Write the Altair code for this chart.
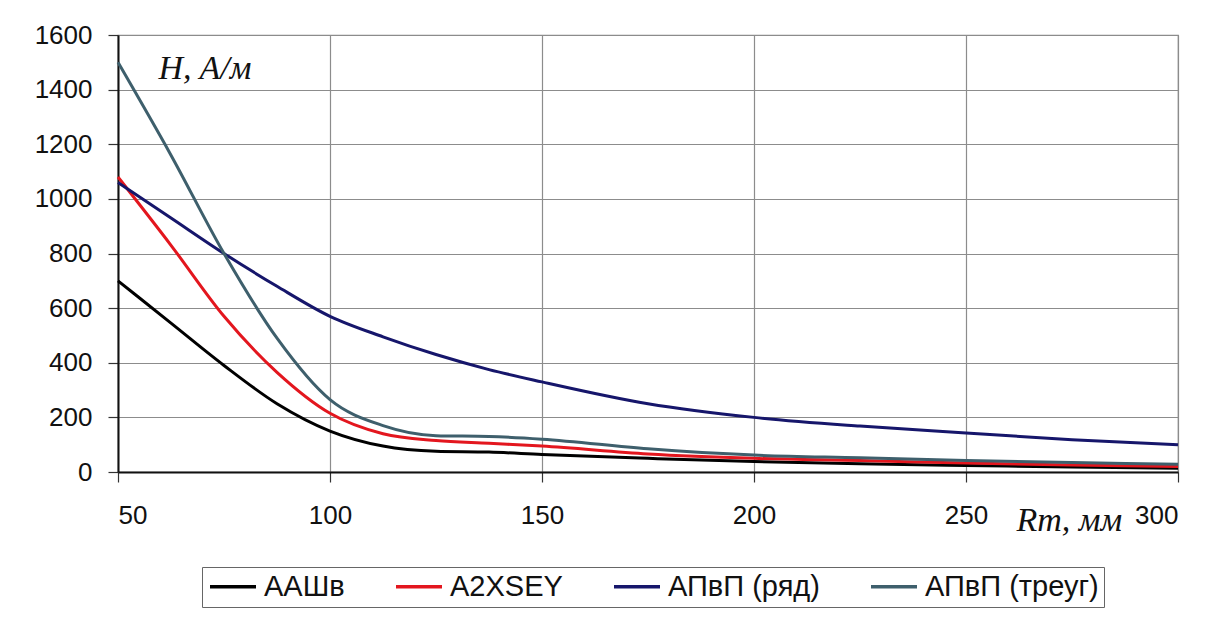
import altair as alt
import pandas as pd

rm = [50, 62.5, 75, 87.5, 100, 112.5, 125, 137.5, 150, 175, 200, 225, 250, 275, 300]
aashv = [700, 545, 390, 250, 150, 95, 76, 73, 64, 50, 38, 30, 24, 18, 14]
a2xsey = [1080, 830, 570, 365, 215, 140, 115, 105, 95, 66, 50, 42, 33, 26, 20]
apvp_row = [1060, 930, 800, 680, 570, 495, 430, 375, 330, 250, 200, 168, 143, 118, 100]
apvp_tri = [1500, 1160, 800, 490, 265, 170, 133, 130, 120, 85, 62, 52, 42, 35, 28]

series_names = ["ААШв", "A2XSEY", "АПвП (ряд)", "АПвП (треуг)"]
series_colors = ["#000000", "#e3161e", "#16166b", "#3e5f6c"]

rows = []
for name, vals in zip(series_names, [aashv, a2xsey, apvp_row, apvp_tri]):
    for x, v in zip(rm, vals):
        rows.append({"Rm": x, "H": v, "series": name})
df = pd.DataFrame(rows)

chart = alt.Chart(df).mark_line(strokeWidth=3, interpolate="monotone").encode(
    x=alt.X("Rm:Q",
            scale=alt.Scale(domain=[50, 300], nice=False, zero=False),
            axis=alt.Axis(values=[50, 100, 150, 200, 250, 300], format="d", title="Rm, мм",
                          titleFont="Liberation Serif", titleFontStyle="italic",
                          titleFontWeight="normal", titleFontSize=34, titleColor="#111",
                          titleX=898, titleY=58, titleAlign="left", titleBaseline="alphabetic",
                          titleAnchor="start")),
    y=alt.Y("H:Q",
            scale=alt.Scale(domain=[0, 1600], nice=False),
            axis=alt.Axis(values=list(range(0, 1601, 200)), format="d", title="H, A/м",
                          titleFont="Liberation Serif", titleFontStyle="italic",
                          titleFontWeight="normal", titleFontSize=34, titleColor="#111",
                          titleAngle=0, titleX=40, titleY=43, titleAlign="left",
                          titleBaseline="alphabetic", titleAnchor="start")),
    color=alt.Color("series:N",
                    scale=alt.Scale(domain=series_names, range=series_colors),
                    legend=alt.Legend(title=None, orient="none", legendX=84, legendY=532,
                                      direction="horizontal", columns=4,
                                      symbolType="M-1,0H3", symbolSize=529,
                                      symbolStrokeWidth=3.5, labelFont="Liberation Sans",
                                      labelFontSize=29, labelColor="#111", labelOffset=28,
                                      columnPadding=44, strokeColor="#666",
                                      padding=5, labelLimit=400)),
).properties(
    width=1060, height=437,
    autosize=alt.AutoSizeParams(type="none"),
    padding={"left": 110, "top": 27, "right": 36, "bottom": 150},
).configure_axis(
    labelFont="Liberation Sans", labelFontSize=26, labelColor="#111",
    gridColor="#8c8c8c", gridWidth=1.2, gridOpacity=1,
    domainColor="#111", domainWidth=2, tickColor="#333", tickSize=10, tickWidth=1.2,
).configure_axisY(labelPadding=16).configure_axisX(labelPadding=20, labelBaseline="top").configure_view(
    stroke="#8c8c8c", strokeWidth=1.2
)

chart.save("out.html", embed_options={"renderer": "svg", "actions": False})
